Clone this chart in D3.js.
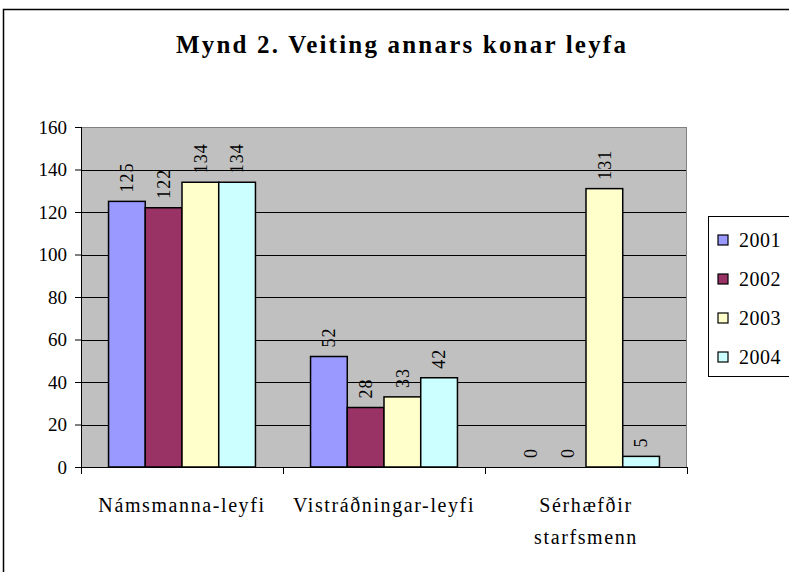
<!DOCTYPE html>
<html>
<head>
<meta charset="utf-8">
<script src="https://cdn.jsdelivr.net/npm/d3@7"></script>
<style>
  body { margin: 0; background: #fff; }
  svg text { font-family: "Liberation Serif", "Times New Roman", serif !important; fill: #000; }
</style>
</head>
<body>
<svg id="chart" width="789" height="572"></svg>
<script>
var categories = [["Námsmanna-leyfi"], ["Vistráðningar-leyfi"], ["Sérhæfðir", "starfsmenn"]];
var years = ["2001", "2002", "2003", "2004"];
var values = [
  [125, 122, 134, 134],
  [52, 28, 33, 42],
  [0, 0, 131, 5]
];
var yTicks = [0, 20, 40, 60, 80, 100, 120, 140, 160];
var yearColor = { "2001": "#9999FF", "2002": "#993366", "2003": "#FFFFCC", "2004": "#CCFFFF" };

var svg = d3.select("#chart");
var serif = "'Liberation Serif', 'Times New Roman', serif";

// outer frame (right/bottom cut off like the original)
svg.append("rect")
  .attr("x", 3.5).attr("y", 9.5)
  .attr("width", 800).attr("height", 600)
  .attr("fill", "none").attr("stroke", "#000").attr("stroke-width", 1.5);

svg.append("text")
  .attr("x", 402).attr("y", 53)
  .attr("text-anchor", "middle")
  .style("font-family", serif)
  .style("font-size", "25px").style("font-weight", "bold")
  .style("letter-spacing", "2.2px")
  .text("Mynd 2. Veiting annars konar leyfa");

var plot = { left: 81, right: 687, top: 127, bottom: 467 };

var x0 = d3.scaleBand()
  .domain(d3.range(categories.length))
  .range([plot.left, plot.right]);

// 4 touching bars + 1.5 bar-widths of gap per category
var barW = x0.bandwidth() / 5.5;
var x1 = d3.scaleBand()
  .domain(years)
  .range([barW * 0.75, barW * 4.75]);

var y = d3.scaleLinear().domain([0, 160]).range([plot.bottom, plot.top]);

svg.append("rect")
  .attr("x", plot.left).attr("y", plot.top)
  .attr("width", plot.right - plot.left).attr("height", plot.bottom - plot.top)
  .attr("fill", "#C0C0C0");

// gridlines
svg.append("g").selectAll("line")
  .data(yTicks.slice(1))
  .enter().append("line")
    .attr("x1", plot.left).attr("x2", plot.right)
    .attr("y1", function(d) { return Math.round(y(d)) + 0.5; })
    .attr("y2", function(d) { return Math.round(y(d)) + 0.5; })
    .attr("stroke", "#000").attr("stroke-width", 1);

// plot frame (grey)
svg.append("rect")
  .attr("x", plot.left + 0.5).attr("y", plot.top + 0.5)
  .attr("width", plot.right - plot.left - 1).attr("height", plot.bottom - plot.top)
  .attr("fill", "none").attr("stroke", "#808080").attr("stroke-width", 1);

// bars
var groups = svg.append("g").selectAll("g")
  .data(values)
  .enter().append("g")
    .attr("transform", function(d, i) { return "translate(" + x0(i) + ",0)"; });

function rows(d) { return d.map(function(v, j) { return { year: years[j], value: v }; }); }

groups.selectAll("rect")
  .data(rows)
  .enter().filter(function(d) { return d.value > 0; }).append("rect")
    .attr("x", function(d) { return x1(d.year); })
    .attr("y", function(d) { return y(d.value); })
    .attr("width", x1.bandwidth())
    .attr("height", function(d) { return y(0) - y(d.value); })
    .attr("fill", function(d) { return yearColor[d.year]; })
    .attr("stroke", "#000").attr("stroke-width", 1.5);

// data labels (rotated)
groups.selectAll("text")
  .data(rows)
  .enter().append("text")
    .attr("transform", function(d) {
      return "translate(" + (x1(d.year) + x1.bandwidth() / 2) + "," + (y(d.value) - 9) + ") rotate(-90)";
    })
    .attr("dy", "0.35em")
    .style("font-family", serif)
    .style("font-size", "18px")
    .style("letter-spacing", "1px")
    .text(function(d) { return d.value; });

// y axis
var yAxis = svg.append("g")
  .attr("transform", "translate(" + plot.left + ",0)")
  .call(d3.axisLeft(y).tickValues(yTicks).tickSize(6).tickPadding(8));
yAxis.select(".domain").attr("stroke", "#000").attr("d", "M0.5," + plot.top + "V" + plot.bottom);
yAxis.selectAll(".tick line").attr("stroke", "#000");
yAxis.selectAll(".tick text")
  .style("font-family", serif)
  .style("font-size", "19px").attr("fill", "#000");

// x axis baseline and ticks
svg.append("line")
  .attr("x1", plot.left).attr("x2", plot.right)
  .attr("y1", plot.bottom + 0.5).attr("y2", plot.bottom + 0.5)
  .attr("stroke", "#000");
svg.append("g").selectAll("line")
  .data(d3.range(categories.length + 1))
  .enter().append("line")
    .attr("x1", function(i) { return Math.round(plot.left + i * x0.bandwidth()) + 0.5; })
    .attr("x2", function(i) { return Math.round(plot.left + i * x0.bandwidth()) + 0.5; })
    .attr("y1", plot.bottom).attr("y2", plot.bottom + 7)
    .attr("stroke", "#000");

svg.append("g").selectAll("text")
  .data(categories)
  .enter().append("text")
    .attr("x", function(d, i) { return x0(i) + x0.bandwidth() / 2; })
    .attr("y", 512)
    .attr("text-anchor", "middle")
    .style("font-family", serif)
    .style("font-size", "20px")
    .style("letter-spacing", "1.6px")
    .selectAll("tspan")
    .data(function(d) { return d; })
    .enter().append("tspan")
      .attr("x", function() { return d3.select(this.parentNode).attr("x"); })
      .attr("dy", function(d, k) { return k === 0 ? 0 : 32; })
      .text(function(d) { return d; });

// legend
var legend = svg.append("g").attr("transform", "translate(708,216)");
legend.append("rect")
  .attr("x", 0.5).attr("y", 0.5).attr("width", 100).attr("height", 160)
  .attr("fill", "#fff").attr("stroke", "#000");
var item = legend.selectAll("g.item")
  .data(years)
  .enter().append("g")
    .attr("class", "item")
    .attr("transform", function(d, i) { return "translate(0," + (24 + i * 39) + ")"; });
item.append("rect")
  .attr("x", 10).attr("y", -5).attr("width", 10).attr("height", 10)
  .attr("fill", function(d) { return yearColor[d]; })
  .attr("stroke", "#000").attr("stroke-width", 1.2);
item.append("text")
  .attr("x", 31).attr("y", 7)
  .style("font-family", serif)
  .style("font-size", "20px")
  .style("letter-spacing", "0.5px")
  .text(function(d) { return d; });
</script>
</body>
</html>
